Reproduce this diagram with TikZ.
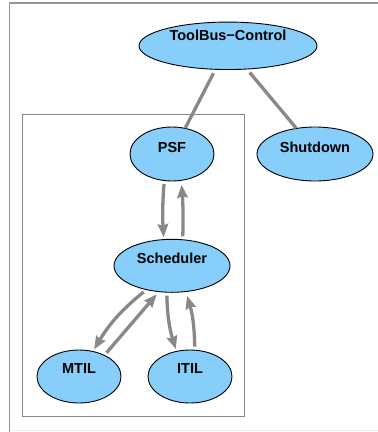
\documentclass[tikz,border=0pt]{standalone}
\usepackage{fontspec}
\setmainfont{Liberation Sans}
\usetikzlibrary{shapes.geometric,arrows.meta}
\definecolor{nodefill}{RGB}{135,206,250}
\definecolor{edgegray}{RGB}{139,135,135}
\definecolor{framegray}{RGB}{150,150,150}
\begin{document}
\begin{tikzpicture}[x=1pt,y=-1pt,
  ell/.style={ellipse, draw=black, line width=0.9pt, fill=nodefill, inner sep=0pt,
    font=\bfseries\fontsize{14.5}{16}\selectfont, text height=0pt},
  conn/.style={draw=edgegray, line width=3.3pt},
  arr/.style={conn, -{Stealth[length=13pt,width=10.5pt,inset=1.5pt]}, shorten <=3pt, shorten >=2pt}]
\useasboundingbox (0,0) rectangle (378,432);
% frames
\draw[framegray, line width=1.6pt] (378,2.7) -- (9.5,2.7) -- (9.5,432);
\draw[gray!15, line width=1pt] (9.5,430.7) -- (378,430.7);
\draw[gray!95!white, line width=1pt] (22.7,114) rectangle (244,416.7);
% nodes
\node[ell, minimum width=178pt, minimum height=47.5pt, text depth=10pt] (tbc) at (228,45.8) {ToolBus−Control};
\node[ell, minimum width=84pt, minimum height=54pt, text depth=3.4pt] (psf) at (172,154) {PSF};
\node[ell, minimum width=116pt, minimum height=54pt, text depth=3.4pt] (shut) at (315,154) {Shutdown};
\node[ell, minimum width=116pt, minimum height=53pt, text depth=5pt] (sched) at (172,265.8) {Scheduler};
\node[ell, minimum width=84pt, minimum height=53pt, text depth=6.4pt] (mtil) at (79,376.5) {MTIL};
\node[ell, minimum width=84pt, minimum height=53pt, text depth=6.4pt] (itil) at (190,376.5) {ITIL};
% connectors
\draw[conn, shorten <=4pt] (tbc.-118) -- (psf.63.4);
\draw[conn, shorten <=4pt] (tbc.-51.3) -- (shut.126.5);
\draw[arr] (psf.-106.5) to[bend right=4] (sched.107.4);
\draw[arr, shorten >=4pt] (sched.68.2) to[bend right=3] (psf.-71.4);
\draw[arr] (sched.-137.9) to[bend right=10] (mtil.61.6);
\draw[arr, shorten >=3pt] (mtil.40) -- (sched.-117.6);
\draw[arr] (sched.-101) to[bend right=8] (itil.118.9);
\draw[arr, shorten >=4pt] (itil.80) to[bend right=8] (sched.-62.2);
\end{tikzpicture}
\end{document}
